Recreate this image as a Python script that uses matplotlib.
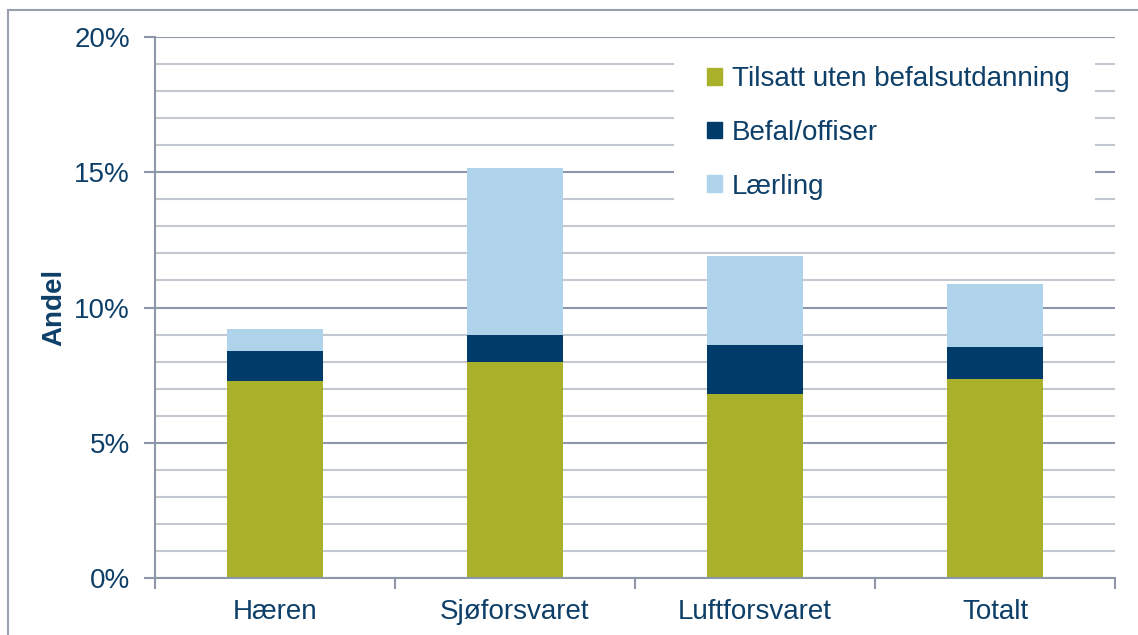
import numpy as np
import matplotlib
matplotlib.use('Agg')
import matplotlib.pyplot as plt
from matplotlib.patches import Patch, Rectangle
from matplotlib.ticker import MultipleLocator, FuncFormatter, FixedLocator

plt.rcParams['font.family'] = ['Liberation Sans', 'DejaVu Sans']

categories = ['Hæren', 'Sjøforsvaret', 'Luftforsvaret', 'Totalt']
tilsatt = [7.28, 8.00, 6.80, 7.35]
befal = [1.11, 0.98, 1.81, 1.19]
laerling = [0.80, 6.17, 3.29, 2.33]
series_names = ['Tilsatt uten befalsutdanning', 'Befal/offiser', 'Lærling']

green = '#A9B02A'
navy = '#003B69'
light = '#AFD3EB'
textc = '#0D3F68'
major_grid = '#8C97AA'
minor_grid = '#C3C7CF'

W, H = 1138, 635
fig = plt.figure(figsize=(W / 100, H / 100), dpi=100)
ax = fig.add_axes([155 / W, 1 - 578 / H, (1115 - 155) / W, (578 - 37) / H])

# outer frame
fig.patches.append(Rectangle((8 / W, -0.05), 1.2, 1 - 10 / H + 0.05, transform=fig.transFigure,
                             fill=False, edgecolor='#98A0B0', linewidth=1.5))

x = np.arange(len(categories))
w = 0.4
b1 = np.array(tilsatt)
b2 = b1 + np.array(befal)
ax.bar(x, tilsatt, w, color=green, zorder=2)
ax.bar(x, befal, w, bottom=b1, color=navy, zorder=2)
ax.bar(x, laerling, w, bottom=b2, color=light, zorder=2)

ax.set_xlim(-0.5, len(categories) - 0.5)
ax.set_ylim(0, 20)
ax.set_axisbelow(True)

ax.yaxis.set_major_locator(MultipleLocator(5))
ax.yaxis.set_minor_locator(MultipleLocator(1))
ax.yaxis.set_major_formatter(FuncFormatter(lambda v, p: f'{v:.0f}%'))
ax.grid(True, which='major', axis='y', color=major_grid, linewidth=1.5, zorder=0)
ax.grid(True, which='minor', axis='y', color=minor_grid, linewidth=1.5, zorder=0)
ax.tick_params(axis='y', which='major', length=8, width=1.5, color=major_grid,
               pad=10, labelsize=20, labelcolor=textc)
ax.tick_params(axis='y', which='minor', length=0)

ax.xaxis.set_major_locator(FixedLocator(np.arange(-0.5, len(categories), 1)))
ax.xaxis.set_minor_locator(FixedLocator(x))
ax.xaxis.set_major_formatter(FuncFormatter(lambda v, p: ''))
ax.set_xticks(x, categories, minor=True)
ax.tick_params(axis='x', which='major', length=8, width=1.5, color=major_grid, direction='out')
ax.tick_params(axis='x', which='minor', length=0, pad=15, labelsize=20, labelcolor=textc)

for s in ['top', 'right']:
    ax.spines[s].set_visible(False)
for s in ['left', 'bottom']:
    ax.spines[s].set_color(major_grid)
    ax.spines[s].set_linewidth(1.5)

ax.set_ylabel('Andel', fontsize=20, fontweight='bold', color=textc)
ax.yaxis.set_label_coords(-0.091, 0.5)

# white area behind legend
ax.add_patch(Rectangle(((674 - 155) / 960, (578 - 213) / 541), (1095 - 674) / 960, (213 - 39) / 541,
                       transform=ax.transAxes, facecolor='white', edgecolor='none', zorder=1))

handles = [Patch(color=c) for c in [green, navy, light]]
leg = fig.legend(handles, series_names, loc='upper left', bbox_to_anchor=(707 / W, 1 - 66 / H),
                 frameon=False, fontsize=20, handlelength=0.55, handleheight=0.55,
                 handletextpad=0.35, labelspacing=1.0, borderpad=0, borderaxespad=0)
for t in leg.get_texts():
    t.set_color(textc)

fig.savefig('out.png', dpi=100)
